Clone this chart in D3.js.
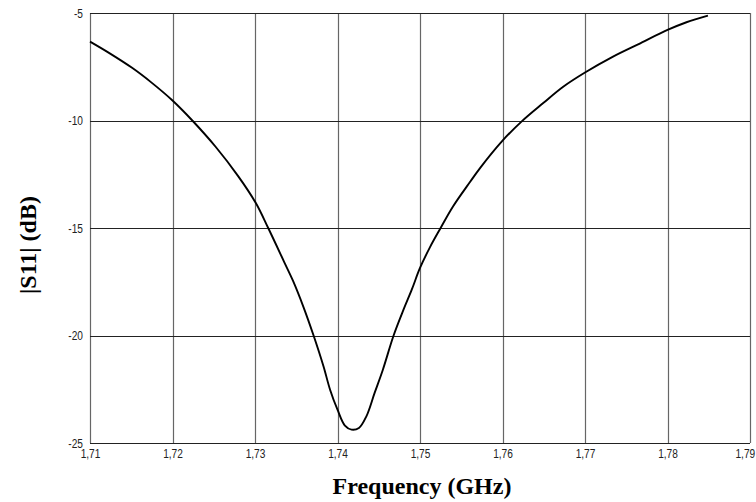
<!DOCTYPE html>
<html>
<head>
<meta charset="utf-8">
<script src="https://cdn.jsdelivr.net/npm/d3@7"></script>
<style>
  body { margin: 0; background: #fff; }
  svg { display: block; }
</style>
</head>
<body>
<script>
"use strict";

const freq = [
  1.7100, 1.7122, 1.7151, 1.7175, 1.7200, 1.7224, 1.7252, 1.7280, 1.7301, 1.7316,
  1.7336, 1.7346, 1.7359, 1.7371, 1.7383, 1.7391, 1.7400, 1.7409, 1.7417, 1.7426,
  1.7435, 1.7445, 1.7455, 1.7468, 1.7480, 1.7490, 1.7500, 1.7512, 1.7525, 1.7540,
  1.7561, 1.7573, 1.7599, 1.7623, 1.7649, 1.7674, 1.7700, 1.7734, 1.7767, 1.7800,
  1.7823, 1.7849
];
const s11 = [
  -6.33, -6.83, -7.55, -8.25, -9.07, -10.0, -11.21, -12.61, -13.84, -15.0,
  -16.63, -17.45, -18.7, -20.0, -21.43, -22.52, -23.45, -24.19, -24.38, -24.30,
  -23.76, -22.67, -21.59, -20.0, -18.8, -17.87, -16.86, -15.9, -15.0, -14.0,
  -12.84, -12.2, -10.98, -10.05, -9.20, -8.42, -7.77, -7.03, -6.41, -5.79,
  -5.43, -5.12
];

const xTicks = [1.71, 1.72, 1.73, 1.74, 1.75, 1.76, 1.77, 1.78, 1.79];
const yTicks = [-25, -20, -15, -10, -5];

const width = 756, height = 502;
const margin = { top: 13, right: 6, bottom: 59, left: 90 };

// comma decimals and plain hyphen minus, like the original
const loc = d3.formatLocale({ decimal: ",", thousands: ".", grouping: [3], currency: ["", ""], minus: "-" });
const fmtX = loc.format(".2f");
const fmtY = loc.format("d");

const x = d3.scaleLinear().domain([1.71, 1.79]).range([margin.left, width - margin.right]);
const y = d3.scaleLinear().domain([-25, -5]).range([height - margin.bottom, margin.top]);

const svg = d3.select("body").append("svg").attr("width", width).attr("height", height);

// grid
svg.append("g")
  .selectAll("line")
  .data(xTicks)
  .join("line")
  .attr("x1", (d) => Math.round(x(d)) + 0.5)
  .attr("x2", (d) => Math.round(x(d)) + 0.5)
  .attr("y1", y(-5))
  .attr("y2", y(-25))
  .attr("stroke", "#666")
  .attr("stroke-width", 1.2);

svg.append("g")
  .selectAll("line")
  .data(yTicks)
  .join("line")
  .attr("x1", x(1.71))
  .attr("x2", x(1.79))
  .attr("y1", (d) => Math.round(y(d)) + 0.5)
  .attr("y2", (d) => Math.round(y(d)) + 0.5)
  .attr("stroke", "#222")
  .attr("stroke-width", 1.2);

// tick labels (narrow, like the old bitmap font)
const tickText = (g) => g.selectAll("text")
  .attr("font-family", "Liberation Sans, Arial, sans-serif")
  .attr("font-size", 13)
  .attr("fill", "#222")
  .attr("transform", "scale(0.78,1)");

svg.append("g")
  .attr("transform", `translate(0,${y(-25) + 2})`)
  .call(d3.axisBottom(x).tickValues(xTicks).tickFormat(fmtX).tickSize(0).tickPadding(4))
  .call((g) => g.select(".domain").remove())
  .call(tickText)
  // last label sits inside the picture, right-aligned
  .call((g) => g.selectAll("text").filter((d) => d === 1.79)
    .attr("text-anchor", "end")
    .attr("x", 6));

svg.append("g")
  .attr("transform", `translate(${x(1.71) - 7},0)`)
  .call(d3.axisLeft(y).tickValues(yTicks).tickFormat(fmtY).tickSize(0).tickPadding(0))
  .call((g) => g.select(".domain").remove())
  .call(tickText);

// curve
const line = d3.line()
  .x((d, i) => x(freq[i]))
  .y((d) => y(d))
  .curve(d3.curveCatmullRom);

svg.append("path")
  .datum(s11)
  .attr("fill", "none")
  .attr("stroke", "#000")
  .attr("stroke-width", 1.9)
  .attr("stroke-linejoin", "round")
  .attr("d", line);

// axis titles
svg.append("text")
  .attr("x", (x(1.71) + x(1.79)) / 2 + 2)
  .attr("y", 494)
  .attr("text-anchor", "middle")
  .attr("font-family", "Liberation Serif, Times New Roman, serif")
  .attr("font-weight", "bold")
  .attr("font-size", 24)
  .attr("fill", "#000")
  .text("Frequency (GHz)");

svg.append("text")
  .attr("transform", "translate(36,245) rotate(-90)")
  .attr("text-anchor", "middle")
  .attr("font-family", "Liberation Serif, Times New Roman, serif")
  .attr("font-weight", "bold")
  .attr("font-size", 24)
  .attr("fill", "#000")
  .text("|S11| (dB)");
</script>
</body>
</html>
